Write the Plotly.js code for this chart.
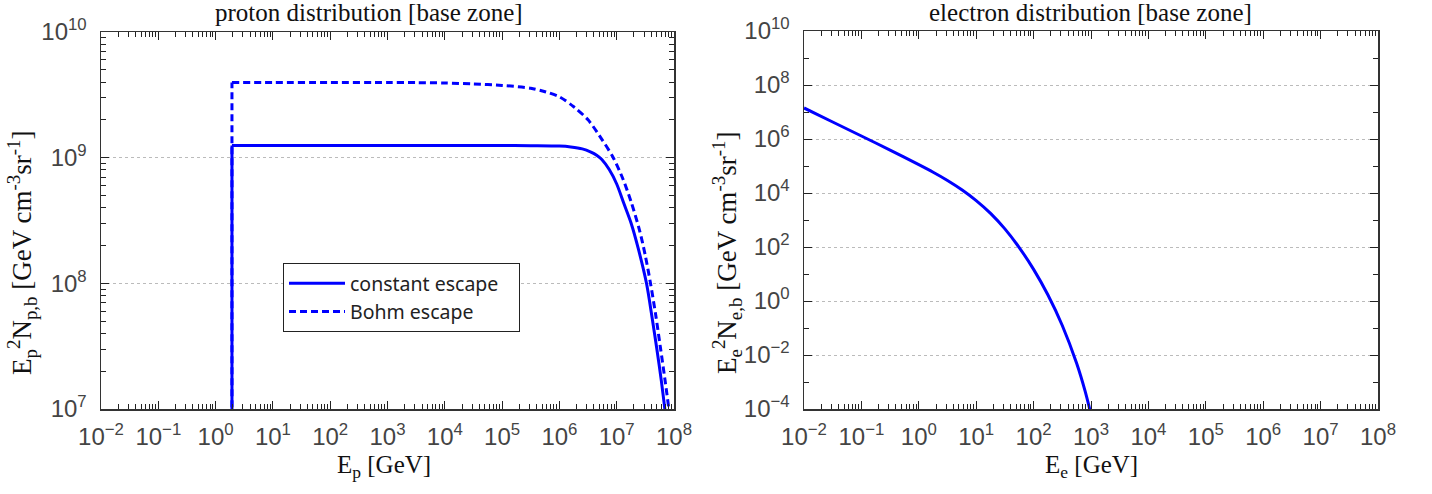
<!DOCTYPE html>
<html>
<head>
<meta charset="utf-8">
<script src="https://cdn.plot.ly/plotly-3.0.1.min.js"></script>
<style>html,body{margin:0;padding:0;background:#fff;}#plot{width:1432px;height:494px;}</style>
</head>
<body>
<div id="plot"></div>
<script>
// ---- data ----
var protonE = [1.93, 1.93, 10, 1e2, 1e3, 1e4, 1e5, 3.16e5, 1e6, 1.58e6, 2.51e6, 3.55e6, 4.47e6, 5.5e6, 7.41e6, 1e7, 1.32e7, 1.78e7, 2.4e7, 3.31e7, 4.17e7, 5.01e7, 6.03e7, 6.92e7, 7.94e7];
var protonConst = [1e5, 1.25e9, 1.25e9, 1.25e9, 1.25e9, 1.25e9, 1.25e9, 1.245e9, 1.236e9, 1.216e9, 1.175e9, 1.109e9, 1.047e9, 9.66e8, 8.04e8, 6.17e8, 4.37e8, 3.02e8, 1.86e8, 1.0e8, 5.25e7, 3.02e7, 1.66e7, 1.0e7, 6.0e6];
var protonBohmE = [1.93, 1.93, 10, 1e2, 1e3, 3.16e3, 1e4, 3.16e4, 1e5, 3.16e5, 5.62e5, 1e6, 1.78e6, 3.16e6, 5.62e6, 8.71e6, 1.26e7, 1.78e7, 2.51e7, 3.16e7, 3.89e7, 4.79e7, 5.75e7, 6.92e7, 8.13e7, 9.12e7];
var protonBohm = [1e5, 3.96e9, 3.96e9, 3.96e9, 3.96e9, 3.955e9, 3.93e9, 3.86e9, 3.76e9, 3.57e9, 3.35e9, 3.05e9, 2.54e9, 2.0e9, 1.38e9, 1.0e9, 6.92e8, 4.47e8, 2.63e8, 1.66e8, 1.0e8, 5.62e7, 3.16e7, 1.74e7, 1.0e7, 6.3e6];
var electronE = [0.01, 0.0316, 0.1, 0.316, 1, 1.78, 3.16, 5.62, 10, 17.8, 31.6, 56.2, 100, 178, 316, 562, 794, 1000];
var electronN = [1.41e7, 4.27e6, 1.29e6, 3.89e5, 1.12e5, 5.89e4, 2.92e4, 1.32e4, 5.25e3, 1.76e3, 468, 95.5, 14.8, 1.66, 0.124, 4.95e-3, 4.4e-4, 6.3e-5];

var xTickVals = [1e-2, 1e-1, 1e0, 1e1, 1e2, 1e3, 1e4, 1e5, 1e6, 1e7, 1e8];
var xTickText = ['10<sup>\u22122</sup>', '10<sup>\u22121</sup>', '10<sup>0</sup>', '10<sup>1</sup>', '10<sup>2</sup>', '10<sup>3</sup>', '10<sup>4</sup>', '10<sup>5</sup>', '10<sup>6</sup>', '10<sup>7</sup>', '10<sup>8</sup>'];
var yPTickVals = [1e7, 1e8, 1e9, 1e10];
var yPTickText = ['10<sup>7</sup>', '10<sup>8</sup>', '10<sup>9</sup>', '10<sup>10</sup>'];
var yETickVals = [1e-4, 1e-2, 1e0, 1e2, 1e4, 1e6, 1e8, 1e10];
var yETickText = ['10<sup>\u22124</sup>', '10<sup>\u22122</sup>', '10<sup>0</sup>', '10<sup>2</sup>', '10<sup>4</sup>', '10<sup>6</sup>', '10<sup>8</sup>', '10<sup>10</sup>'];

var blue = '#0000ff';
var solidLine = {color: blue, width: 3};
var dashLine = {color: blue, width: 3, dash: '7px,4px'};
var traces = [
  // jump at the injection threshold (first two points of each proton series)
  {x: protonE.slice(0, 2), y: protonConst.slice(0, 2), type: 'scatter', mode: 'lines', showlegend: false,
   legendgroup: 'c', line: solidLine, xaxis: 'x', yaxis: 'y'},
  {x: protonBohmE.slice(0, 2), y: protonBohm.slice(0, 2), type: 'scatter', mode: 'lines', showlegend: false,
   legendgroup: 'b', line: dashLine, xaxis: 'x', yaxis: 'y'},
  {x: protonE.slice(1), y: protonConst.slice(1), type: 'scatter', mode: 'lines', name: 'constant escape\u00a0\u00a0\u00a0',
   legendgroup: 'c', line: Object.assign({shape: 'spline', smoothing: 0.8}, solidLine), xaxis: 'x', yaxis: 'y'},
  {x: protonBohmE.slice(1), y: protonBohm.slice(1), type: 'scatter', mode: 'lines', name: 'Bohm escape',
   legendgroup: 'b', line: Object.assign({shape: 'spline', smoothing: 0.8}, dashLine), xaxis: 'x', yaxis: 'y'},
  {x: electronE, y: electronN, type: 'scatter', mode: 'lines', name: 'electrons', showlegend: false,
   line: Object.assign({shape: 'spline', smoothing: 0.8}, solidLine), xaxis: 'x2', yaxis: 'y2'}
];

var tickFont = {family: 'Liberation Sans, Arial, sans-serif', size: 24, color: '#444'};
function xax(domain, anchor) {
  return {type: 'log', domain: domain, anchor: anchor, range: [-2, 8],
    tickmode: 'array', tickvals: xTickVals, ticktext: xTickText,
    ticks: 'inside', ticklen: 8, tickwidth: 1, tickcolor: '#222',
    minor: {ticks: 'inside', ticklen: 5, tickwidth: 1, tickcolor: '#222', dtick: 'D1'},
    showline: true, linecolor: '#333', linewidth: 1.5, mirror: 'ticks',
    showgrid: false, zeroline: false, tickfont: tickFont, ticklabelstandoff: 6};
}
function yax(domain, anchor, range, vals, text, minorDtick) {
  return {type: 'log', domain: domain, anchor: anchor, range: range,
    tickmode: 'array', tickvals: vals, ticktext: text,
    ticks: 'inside', ticklen: 8, tickwidth: 1, tickcolor: '#222',
    minor: {ticks: 'inside', ticklen: 5, tickwidth: 1, tickcolor: '#222', dtick: minorDtick, showgrid: false},
    showline: true, linecolor: '#333', linewidth: 1.5, mirror: 'ticks',
    showgrid: true, gridcolor: '#bbbbbb', gridwidth: 1, griddash: 'dot', zeroline: false,
    tickfont: tickFont, ticklabelstandoff: 8};
}

var serif = 'Liberation Serif, Times New Roman, serif';
var layout = {
  width: 1432, height: 494,
  margin: {l: 0, r: 0, t: 0, b: 0},
  paper_bgcolor: '#fff', plot_bgcolor: '#fff',
  showlegend: true,
  legend: {x: 283/1432, y: 1 - 263/494, xanchor: 'left', yanchor: 'top',
    bordercolor: '#222', borderwidth: 1, bgcolor: '#fff',
    font: {family: 'Noto Sans, Open Sans, sans-serif', size: 19.5, color: '#222'},
    itemwidth: 56, tracegroupgap: 0, traceorder: 'normal'},
  xaxis: xax([101/1432, 674/1432], 'y'),
  yaxis: yax([1 - 409/494, 1 - 32/494], 'x', [7, 10], yPTickVals, yPTickText, 'D1'),
  xaxis2: xax([804/1432, 1378/1432], 'y2'),
  yaxis2: yax([1 - 409/494, 1 - 31/494], 'x2', [-4, 10], yETickVals, yETickText, 1),
  annotations: [
    {text: 'proton distribution [base zone]', x: 369/1432, y: 1 - 13/494, xref: 'paper', yref: 'paper',
     showarrow: false, xanchor: 'center', yanchor: 'middle', font: {family: serif, size: 25, color: '#111'}},
    {text: 'electron distribution [base zone]', x: 1090/1432, y: 1 - 12/494, xref: 'paper', yref: 'paper',
     showarrow: false, xanchor: 'center', yanchor: 'middle', font: {family: serif, size: 25, color: '#111'}},
    {text: 'E<sub>p</sub> [GeV]', x: 384/1432, y: 1 - 466/494, xref: 'paper', yref: 'paper',
     showarrow: false, xanchor: 'center', yanchor: 'middle', font: {family: serif, size: 25, color: '#111'}},
    {text: 'E<sub>e</sub> [GeV]', x: 1091/1432, y: 1 - 466/494, xref: 'paper', yref: 'paper',
     showarrow: false, xanchor: 'center', yanchor: 'middle', font: {family: serif, size: 25, color: '#111'}},
    {text: 'E<sub>p</sub><sup>2</sup>N<sub>p,b</sub> [GeV cm<sup>-3</sup>sr<sup>-1</sup>]', x: 22/1432, y: 1 - 253/494,
     xref: 'paper', yref: 'paper', textangle: -90,
     showarrow: false, xanchor: 'center', yanchor: 'middle', font: {family: serif, size: 27, color: '#111'}},
    {text: 'E<sub>e</sub><sup>2</sup>N<sub>e,b</sub> [GeV cm<sup>-3</sup>sr<sup>-1</sup>]', x: 727/1432, y: 1 - 253/494,
     xref: 'paper', yref: 'paper', textangle: -90,
     showarrow: false, xanchor: 'center', yanchor: 'middle', font: {family: serif, size: 27, color: '#111'}}
  ]
};

Plotly.newPlot('plot', traces, layout, {staticPlot: true, displayModeBar: false});
</script>
</body>
</html>
